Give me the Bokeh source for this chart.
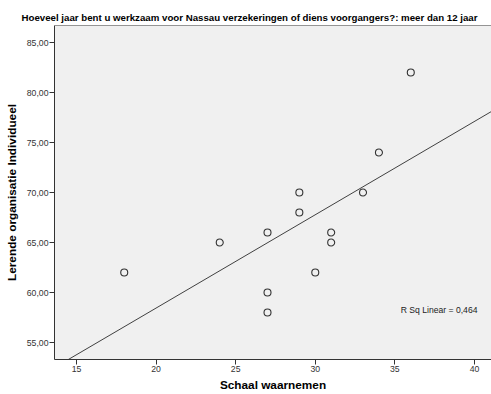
import numpy as np
from bokeh.plotting import figure
from bokeh.models import Range1d, FixedTicker, Span, Label, Title
from bokeh.embed import file_html
from bokeh.resources import INLINE

title_text = "Hoeveel jaar bent u werkzaam voor Nassau verzekeringen of diens voorgangers?: meer dan 12 jaar"
x_label = "Schaal waarnemen"
y_label = "Lerende organisatie Individueel"

schaal_waarnemen = [36, 34, 33, 29, 29, 27, 24, 31, 31, 30, 27, 27, 18]
lerende_org = [82, 74, 70, 70, 68, 66, 65, 66, 65, 62, 60, 58, 62]

x_ticks = [15, 20, 25, 30, 35, 40]
y_ticks = [55, 60, 65, 70, 75, 80, 85]
y_tick_labels = ["55,00", "60,00", "65,00", "70,00", "75,00", "80,00", "85,00"]
r2_label = "R Sq Linear = 0,464"

x0, x1 = 13.62, 41.07
y0, y1 = 53.3, 86.7

p = figure(width=491, height=394, output_backend="svg", toolbar_location=None,
           x_range=Range1d(x0, x1), y_range=Range1d(y0, y1),
           min_border_left=54, min_border_right=0, min_border_bottom=35, min_border_top=25)
p.title = None
t = Title(text=title_text, align="left", offset=-33, text_font="Liberation Sans",
          text_font_size="9.7px", text_font_style="bold", text_color="#000000",
          standoff=6)
p.add_layout(t, "above")

p.background_fill_color = "#f0f0f0"
p.border_fill_color = "#ffffff"
p.outline_line_color = None
p.xgrid.visible = False
p.ygrid.visible = False

for ax in (p.xaxis[0], p.yaxis[0]):
    ax.axis_line_color = "#333333"
    ax.major_tick_line_color = "#333333"
    ax.minor_tick_line_color = None
    ax.major_tick_in = 0
    ax.major_tick_out = 5
    ax.major_label_text_font = "Liberation Sans"
    ax.major_label_text_font_size = "8.7px"
    ax.major_label_text_color = "#333333"
    ax.axis_label_text_font = "Liberation Sans"
    ax.axis_label_text_font_size = "11.8px"
    ax.axis_label_text_font_style = "bold"
    ax.axis_label_text_color = "#000000"

p.xaxis.ticker = FixedTicker(ticks=x_ticks)
p.yaxis.ticker = FixedTicker(ticks=y_ticks)
p.yaxis.major_label_overrides = {v: s for v, s in zip(y_ticks, y_tick_labels)}
p.xaxis.axis_label = x_label
p.yaxis.axis_label = y_label
p.xaxis.major_label_standoff = 1
p.yaxis.major_label_standoff = 1
p.xaxis.axis_label_standoff = 3
p.yaxis.axis_label_standoff = 5

p.add_layout(Span(location=y1, dimension="width", line_color="#333333", line_width=1))

slope, intercept = np.polyfit(schaal_waarnemen, lerende_org, 1)
xs = np.array([x0, x1])
p.line(xs, intercept + slope * xs, line_color="#404040", line_width=1)

p.scatter(schaal_waarnemen, lerende_org, size=7, marker="circle", fill_color=None,
          line_color="#333333", line_width=1.1)

p.add_layout(Label(x=35.37, y=58.23, text=r2_label, text_font="Liberation Sans",
                   text_font_size="8.6px", text_color="#222222", text_baseline="middle"))

open("out.html", "w").write(file_html(p, INLINE))
